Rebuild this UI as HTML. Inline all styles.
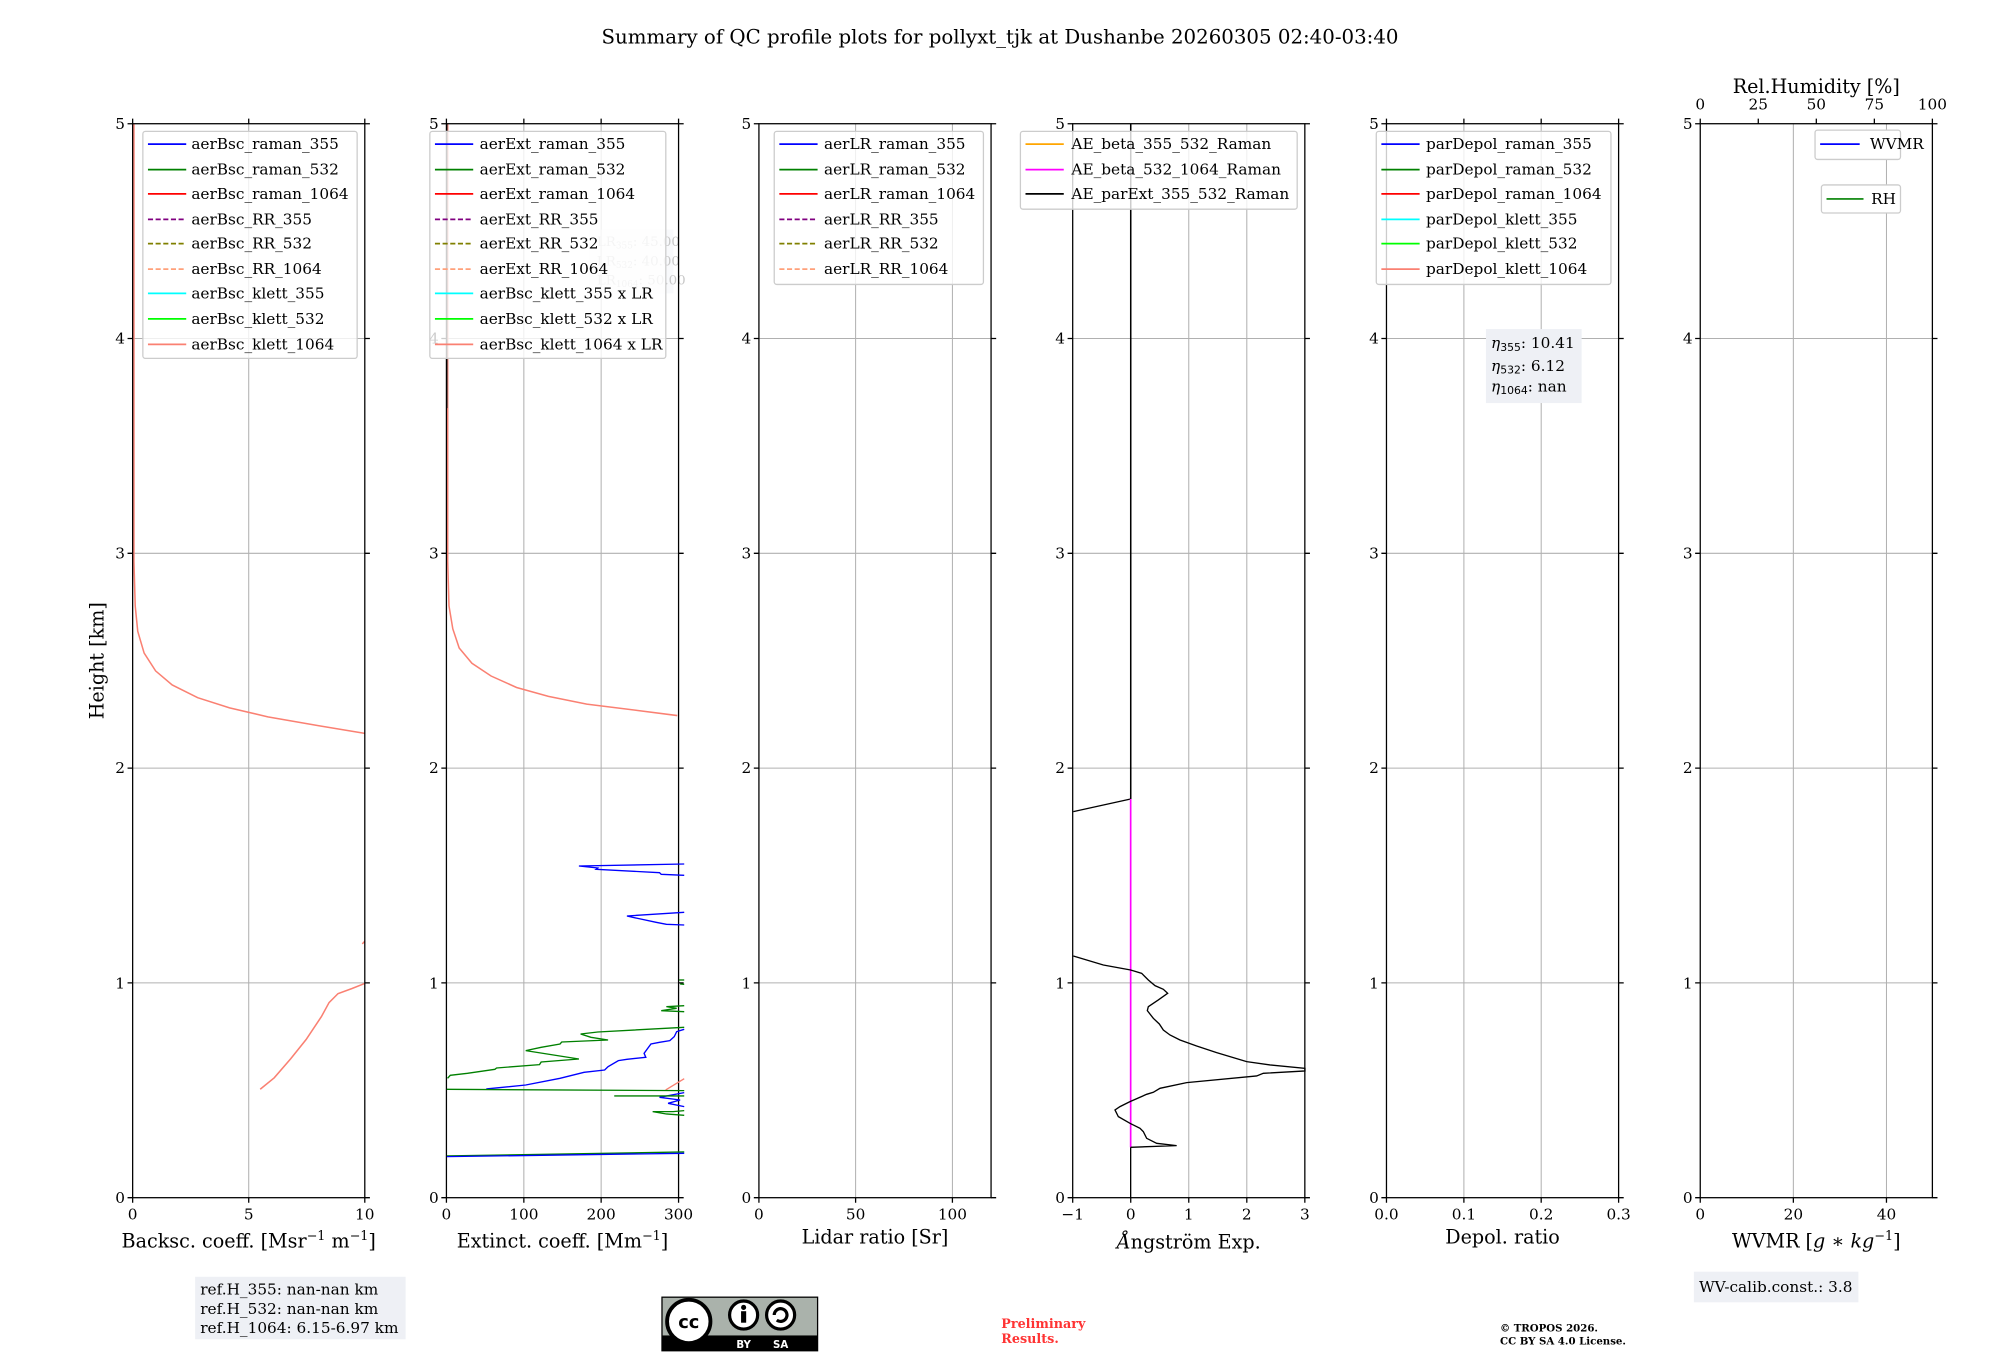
<!DOCTYPE html>
<html><head><meta charset="utf-8"><style>html,body{margin:0;padding:0;background:#fff}svg{display:block}</style></head>
<body>
<svg width="2000" height="1360" viewBox="0 0 2000 1360" xmlns="http://www.w3.org/2000/svg" font-family="DejaVu Serif, Liberation Serif, serif">
<rect width="2000" height="1360" fill="#fff"/>
<g transform="scale(1.2755)">
<text x="784" y="34" font-size="15.5" text-anchor="middle">Summary of QC profile plots for pollyxt_tjk at Dushanbe 20260305 02:40-03:40</text>

<g stroke="#b0b0b0" stroke-width="0.8" fill="none">
 <g id="hg">
  <line x1="104" x2="286" y1="265.4" y2="265.4"/><line x1="104" x2="286" y1="433.8" y2="433.8"/><line x1="104" x2="286" y1="602.2" y2="602.2"/><line x1="104" x2="286" y1="770.6" y2="770.6"/>
 </g>
 <use href="#hg" x="246"/><use href="#hg" x="491"/><use href="#hg" x="737"/><use href="#hg" x="983"/><use href="#hg" x="1229"/>
 <line x1="195" x2="195" y1="97" y2="939"/>
 <line x1="410.7" x2="410.7" y1="97" y2="939"/><line x1="471.3" x2="471.3" y1="97" y2="939"/>
 <line x1="670.8" x2="670.8" y1="97" y2="939"/><line x1="746.7" x2="746.7" y1="97" y2="939"/>
 <line x1="932" x2="932" y1="97" y2="939"/><line x1="977.5" x2="977.5" y1="97" y2="939"/>
 <line x1="1147.7" x2="1147.7" y1="97" y2="939"/><line x1="1208.3" x2="1208.3" y1="97" y2="939"/>
 <line x1="1406" x2="1406" y1="97" y2="939"/><line x1="1479" x2="1479" y1="97" y2="939"/>
</g>

<g fill="none" stroke="#fa8072" stroke-width="1.2">
 <polyline points="105,97 105,440 106,475 108,495 113,512 122,526 135,537 155,547 180,555 210,562 250,569 286,575"/>
 <polyline points="204,854 215,845 228,830 240,815 252,797 258,786 265,779 276,775 286,771"/>
 <polyline points="284,740 286,738"/>
 <polyline points="351,97 351,440 352,475 355,493 360,508 370,520 385,530 405,539 430,546 460,552 500,557 531,561"/>
</g>
<line x1="350.5" x2="350.5" y1="97" y2="320" stroke="#333" stroke-width="0.8"/>
<line x1="886.5" x2="886.5" y1="97" y2="627" stroke="#000" stroke-width="1.2"/>

<rect x="462" y="180" width="66" height="50" fill="#eef0f5" opacity="0.4"/>
<g font-size="10.5" fill="#c8c8c8"><text x="468" y="193">LR<tspan font-size="7" dy="2">355</tspan><tspan dy="-2">: 45.00</tspan></text><text x="468" y="208">LR<tspan font-size="7" dy="2">532</tspan><tspan dy="-2">: 40.00</tspan></text><text x="468" y="223">LR<tspan font-size="7" dy="2">1064</tspan><tspan dy="-2">: 50.00</tspan></text></g>

<g stroke="#000" stroke-width="1" fill="none">
 <g id="fr">
  <rect x="104" y="97" width="182" height="842"/>
  <path d="M100,97h4M100,265.4h4M100,433.8h4M100,602.2h4M100,770.6h4M100,939h4M286,97h4M286,265.4h4M286,433.8h4M286,602.2h4M286,770.6h4M286,939h4"/>
 </g>
 <use href="#fr" x="246"/><use href="#fr" x="491"/><use href="#fr" x="737"/><use href="#fr" x="983"/><use href="#fr" x="1229"/>
 <path d="M104,939v4M195,939v4M286,939v4M104,97v-4M195,97v-4M286,97v-4"/>
 <path d="M350,939v4M410.7,939v4M471.3,939v4M532,939v4M350,97v-4M410.7,97v-4M471.3,97v-4M532,97v-4"/>
 <path d="M595,939v4M670.8,939v4M746.7,939v4"/>
 <path d="M841,939v4M886.5,939v4M932,939v4M977.5,939v4M1023,939v4"/>
 <path d="M1087,939v4M1147.7,939v4M1208.3,939v4M1269,939v4M1087,97v-4M1147.7,97v-4M1208.3,97v-4M1269,97v-4"/>
 <path d="M1333,939v4M1406,939v4M1479,939v4M1333,97v-4M1378.5,97v-4M1424,97v-4M1469.5,97v-4M1515,97v-4"/>
</g>

<g font-size="12" text-anchor="end">
 <g id="yl"><text x="98" y="101">5</text><text x="98" y="269.5">4</text><text x="98" y="438">3</text><text x="98" y="606">2</text><text x="98" y="775">1</text><text x="98" y="943">0</text></g>
 <use href="#yl" x="246"/><use href="#yl" x="491"/><use href="#yl" x="737"/><use href="#yl" x="983"/><use href="#yl" x="1229"/>
</g>
<g font-size="12" text-anchor="middle">
 <text x="104" y="956">0</text><text x="195" y="956">5</text><text x="286" y="956">10</text>
 <text x="350" y="956">0</text><text x="410.7" y="956">100</text><text x="471.3" y="956">200</text><text x="532" y="956">300</text>
 <text x="595" y="956">0</text><text x="670.8" y="956">50</text><text x="746.7" y="956">100</text>
 <text x="841" y="956">−1</text><text x="886.5" y="956">0</text><text x="932" y="956">1</text><text x="977.5" y="956">2</text><text x="1023" y="956">3</text>
 <text x="1087" y="956">0.0</text><text x="1147.7" y="956">0.1</text><text x="1208.3" y="956">0.2</text><text x="1269" y="956">0.3</text>
 <text x="1333" y="956">0</text><text x="1406" y="956">20</text><text x="1479" y="956">40</text>
 <text x="1333" y="86">0</text><text x="1378.5" y="86">25</text><text x="1424" y="86">50</text><text x="1469.5" y="86">75</text><text x="1515" y="86">100</text>
</g>
<g font-size="15" text-anchor="middle">
 <text x="195" y="978">Backsc. coeff. [Msr<tspan font-size="10" dy="-6">−1</tspan><tspan dy="6"> m</tspan><tspan font-size="10" dy="-6">−1</tspan><tspan dy="6">]</tspan></text>
 <text x="441" y="978">Extinct. coeff. [Mm<tspan font-size="10" dy="-6">−1</tspan><tspan dy="6">]</tspan></text>
 <text x="686" y="975">Lidar ratio [Sr]</text>
 <text x="932" y="979" font-style="italic">Å<tspan font-style="normal">ngström Exp.</tspan></text>
 <text x="1178" y="975">Depol. ratio</text>
 <text x="1424" y="978">WVMR [<tspan font-style="italic">g</tspan> ∗ <tspan font-style="italic">kg</tspan><tspan font-size="10" dy="-6">−1</tspan><tspan dy="6">]</tspan></text>
 <text x="1424" y="73">Rel.Humidity [%]</text>
 <text transform="translate(81,518) rotate(-90)">Height [km]</text>
</g>

<g font-size="12">
 <rect x="112" y="103" width="168" height="178" rx="2" fill="#fff" fill-opacity="0.8" stroke="#ccc"/>
 <g stroke-width="1.3">
  <line x1="116" x2="146" y1="113" y2="113" stroke="#0000ff"/><line x1="116" x2="146" y1="133" y2="133" stroke="#008000"/><line x1="116" x2="146" y1="152" y2="152" stroke="#ff0000"/>
  <line x1="116" x2="146" y1="172" y2="172" stroke="#800080" stroke-dasharray="4,2"/><line x1="116" x2="146" y1="191" y2="191" stroke="#808000" stroke-dasharray="4,2"/><line x1="116" x2="146" y1="211" y2="211" stroke="#ffa07a" stroke-dasharray="4,2"/>
  <line x1="116" x2="146" y1="230" y2="230" stroke="#00ffff"/><line x1="116" x2="146" y1="250" y2="250" stroke="#00ff00"/><line x1="116" x2="146" y1="270" y2="270" stroke="#fa8072"/>
 </g>
 <text x="150" y="117">aerBsc_raman_355</text><text x="150" y="137">aerBsc_raman_532</text><text x="150" y="156">aerBsc_raman_1064</text><text x="150" y="176">aerBsc_RR_355</text><text x="150" y="195">aerBsc_RR_532</text><text x="150" y="215">aerBsc_RR_1064</text><text x="150" y="234">aerBsc_klett_355</text><text x="150" y="254">aerBsc_klett_532</text><text x="150" y="274">aerBsc_klett_1064</text>

 <rect x="337" y="103" width="185" height="178" rx="2" fill="#fff" fill-opacity="0.8" stroke="#ccc"/>
 <g stroke-width="1.3">
  <line x1="341" x2="371" y1="113" y2="113" stroke="#0000ff"/><line x1="341" x2="371" y1="133" y2="133" stroke="#008000"/><line x1="341" x2="371" y1="152" y2="152" stroke="#ff0000"/>
  <line x1="341" x2="371" y1="172" y2="172" stroke="#800080" stroke-dasharray="4,2"/><line x1="341" x2="371" y1="191" y2="191" stroke="#808000" stroke-dasharray="4,2"/><line x1="341" x2="371" y1="211" y2="211" stroke="#ffa07a" stroke-dasharray="4,2"/>
  <line x1="341" x2="371" y1="230" y2="230" stroke="#00ffff"/><line x1="341" x2="371" y1="250" y2="250" stroke="#00ff00"/><line x1="341" x2="371" y1="270" y2="270" stroke="#fa8072"/>
 </g>
 <text x="376" y="117">aerExt_raman_355</text><text x="376" y="137">aerExt_raman_532</text><text x="376" y="156">aerExt_raman_1064</text><text x="376" y="176">aerExt_RR_355</text><text x="376" y="195">aerExt_RR_532</text><text x="376" y="215">aerExt_RR_1064</text><text x="376" y="234">aerBsc_klett_355 x LR</text><text x="376" y="254">aerBsc_klett_532 x LR</text><text x="376" y="274">aerBsc_klett_1064 x LR</text>

 <rect x="607" y="103" width="164" height="120" rx="2" fill="#fff" fill-opacity="0.8" stroke="#ccc"/>
 <g stroke-width="1.3">
  <line x1="611" x2="641" y1="113" y2="113" stroke="#0000ff"/><line x1="611" x2="641" y1="133" y2="133" stroke="#008000"/><line x1="611" x2="641" y1="152" y2="152" stroke="#ff0000"/>
  <line x1="611" x2="641" y1="172" y2="172" stroke="#800080" stroke-dasharray="4,2"/><line x1="611" x2="641" y1="191" y2="191" stroke="#808000" stroke-dasharray="4,2"/><line x1="611" x2="641" y1="211" y2="211" stroke="#ffa07a" stroke-dasharray="4,2"/>
 </g>
 <text x="646" y="117">aerLR_raman_355</text><text x="646" y="137">aerLR_raman_532</text><text x="646" y="156">aerLR_raman_1064</text><text x="646" y="176">aerLR_RR_355</text><text x="646" y="195">aerLR_RR_532</text><text x="646" y="215">aerLR_RR_1064</text>

 <rect x="800" y="103" width="217" height="61" rx="2" fill="#fff" fill-opacity="0.8" stroke="#ccc"/>
 <g stroke-width="1.3">
  <line x1="804" x2="834" y1="113" y2="113" stroke="#ffa500"/><line x1="804" x2="834" y1="133" y2="133" stroke="#ff00ff"/><line x1="804" x2="834" y1="152" y2="152" stroke="#000"/>
 </g>
 <text x="840" y="117">AE_beta_355_532_Raman</text><text x="840" y="137">AE_beta_532_1064_Raman</text><text x="840" y="156">AE_parExt_355_532_Raman</text>

 <rect x="1079" y="103" width="184" height="120" rx="2" fill="#fff" fill-opacity="0.8" stroke="#ccc"/>
 <g stroke-width="1.3">
  <line x1="1083" x2="1113" y1="113" y2="113" stroke="#0000ff"/><line x1="1083" x2="1113" y1="133" y2="133" stroke="#008000"/><line x1="1083" x2="1113" y1="152" y2="152" stroke="#ff0000"/>
  <line x1="1083" x2="1113" y1="172" y2="172" stroke="#00ffff"/><line x1="1083" x2="1113" y1="191" y2="191" stroke="#00ff00"/><line x1="1083" x2="1113" y1="211" y2="211" stroke="#fa8072"/>
 </g>
 <text x="1118" y="117">parDepol_raman_355</text><text x="1118" y="137">parDepol_raman_532</text><text x="1118" y="156">parDepol_raman_1064</text><text x="1118" y="176">parDepol_klett_355</text><text x="1118" y="195">parDepol_klett_532</text><text x="1118" y="215">parDepol_klett_1064</text>

 <rect x="1423" y="102" width="67" height="23" rx="2" fill="#fff" stroke="#ccc"/>
 <line x1="1427" x2="1458" y1="113" y2="113" stroke="#0000ff" stroke-width="1.3"/><text x="1466" y="117">WVMR</text>
 <rect x="1428" y="145" width="62" height="22" rx="2" fill="#fff" stroke="#ccc"/>
 <line x1="1432" x2="1461" y1="156" y2="156" stroke="#008000" stroke-width="1.3"/><text x="1467" y="160">RH</text>
</g>

<rect x="1165" y="258" width="75" height="58" fill="#eef0f5"/>
<g font-size="12"><text x="1169" y="273"><tspan font-style="italic">η</tspan><tspan font-size="8.5" dy="2" font-family="DejaVu Sans, sans-serif">355</tspan><tspan dy="-2">: 10.41</tspan></text>
<text x="1169" y="291"><tspan font-style="italic">η</tspan><tspan font-size="8.5" dy="2" font-family="DejaVu Sans, sans-serif">532</tspan><tspan dy="-2">: 6.12</tspan></text>
<text x="1169" y="307"><tspan font-style="italic">η</tspan><tspan font-size="8.5" dy="2" font-family="DejaVu Sans, sans-serif">1064</tspan><tspan dy="-2">: nan</tspan></text></g>

<rect x="153" y="1001" width="165" height="49" fill="#eef0f5"/>
<g font-size="12"><text x="157" y="1015">ref.H_355: nan-nan km</text><text x="157" y="1030">ref.H_532: nan-nan km</text><text x="157" y="1045">ref.H_1064: 6.15-6.97 km</text></g>

<g>
 <rect x="519" y="1017" width="122" height="42" fill="#aab2ab" stroke="#000" stroke-width="1"/>
 <rect x="519" y="1047" width="122" height="12" fill="#000"/>
 <circle cx="540" cy="1036" r="17" fill="#fff" stroke="#000" stroke-width="3"/>
 <text x="540" y="1041" font-family="DejaVu Sans, sans-serif" font-weight="bold" font-size="14" text-anchor="middle">cc</text>
 <circle cx="583" cy="1031" r="11" fill="#fff" stroke="#000" stroke-width="2.5"/>
 <circle cx="583" cy="1025" r="2" fill="#000"/><rect x="581" y="1028" width="4" height="9" fill="#000"/>
 <circle cx="612" cy="1031" r="11" fill="#fff" stroke="#000" stroke-width="2.5"/>
 <path d="M607,1031 a5,5 0 1 1 2,4" fill="none" stroke="#000" stroke-width="2.5"/>
 <text x="583" y="1057" font-family="DejaVu Sans, sans-serif" font-size="8" fill="#fff" text-anchor="middle" font-weight="bold">BY</text>
 <text x="612" y="1057" font-family="DejaVu Sans, sans-serif" font-size="8" fill="#fff" text-anchor="middle" font-weight="bold">SA</text>
</g>

<g font-size="10" font-weight="bold" fill="#ff3333"><text x="785" y="1041">Preliminary</text><text x="785" y="1053">Results.</text></g>
<g font-size="8" font-weight="bold"><text x="1176" y="1044">© TROPOS 2026.</text><text x="1176" y="1054">CC BY SA 4.0 License.</text></g>

<rect x="1328" y="997" width="129" height="24" fill="#eef0f5"/>
<text x="1332" y="1013" font-size="12">WV-calib.const.: 3.8</text>
</g>

<!-- zoom-derived data in original coords -->
<g transform="translate(440,840) scale(0.343,0.3333)" fill="none" stroke-width="4">
 <polyline stroke="#fa8072" points="658,750 712,716"/>
 <polyline stroke="#0000ff" points="712,72 405,78 460,84 455,88 640,98 645,103 712,106"/>
 <polyline stroke="#0000ff" points="712,217 545,228 580,236 630,247 660,253 712,255"/>
 <polyline stroke="#008000" points="697,420 712,420"/><polyline stroke="#008000" points="700,432 712,433"/>
 <polyline stroke="#008000" points="712,497 660,500 690,505 645,512 712,515"/>
 <polyline stroke="#008000" points="22,715 30,706 80,700 160,688 165,684 290,674 295,666 405,657 250,632 295,622 350,612 355,606 490,600 440,592 410,582 460,576 712,562"/>
 <polyline stroke="#0000ff" points="135,747 250,735 350,715 420,697 480,690 490,680 520,662 545,658 600,652 595,640 605,626 615,612 640,607 670,602 683,590 690,575 712,568"/>
 <polyline stroke="#008000" points="20,748 712,752"/>
 <polyline stroke="#0000ff" points="712,758 640,772 700,780 665,790 712,800"/>
 <polyline stroke="#008000" points="508,768 712,768"/>
 <polyline stroke="#008000" points="712,812 680,815 620,815 660,822 712,826"/>
 <polyline stroke="#008000" points="20,948 712,936"/>
 <polyline stroke="#0000ff" points="20,950 712,940"/>
</g>
<g transform="translate(1070,760) scale(0.3333)" fill="none" stroke-width="4">
 <polyline stroke="#000" points="182,0 182,117 10,155"/>
 <polyline stroke="#ff00ff" stroke-width="5" points="182,117 182,1162"/>
 <polyline stroke="#000" points="182,1162 182,1315"/>
 <polyline stroke="#000" points="10,588 100,615 182,630 215,640 235,660 255,677 280,688 293,700 265,720 235,740 232,752 250,775 268,792 280,810 300,825 330,840 380,858 440,878 480,890 530,905 600,915 705,925 705,933 580,940 560,948 350,968 270,985 250,997 230,1003 180,1025 150,1040 135,1050 145,1070 180,1090 210,1105 220,1115 230,1135 260,1150 320,1157 182,1162"/>
</g>
</svg>
</body></html>
